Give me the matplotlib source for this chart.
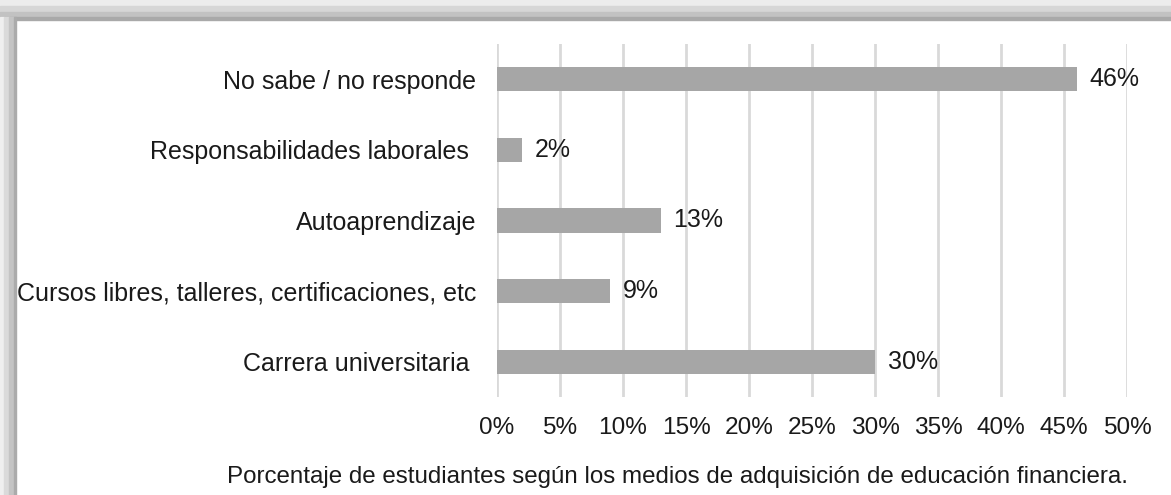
import numpy as np
import matplotlib
matplotlib.use("Agg")
import matplotlib.pyplot as plt
from matplotlib.patches import Rectangle
from matplotlib.ticker import PercentFormatter

categories = ["No sabe / no responde",
              "Responsabilidades laborales ",
              "Autoaprendizaje",
              "Cursos libres, talleres, certificaciones, etc",
              "Carrera universitaria "]
values = [46, 2, 13, 9, 30]
xticks = list(range(0, 55, 5))
caption = "Porcentaje de estudiantes según los medios de adquisición de educación financiera."

plt.rcParams['font.family'] = ['Liberation Sans', 'DejaVu Sans']

W, H = 1171, 495
fig = plt.figure(figsize=(W / 100, H / 100), dpi=100)

# shadow frame, top and left
top_bands = [(0, 6, '#ececec'), (6, 12, '#d6d6d6'), (12, 17, '#c2c2c2'), (17, 20, '#a9a9a9')]
for y0, y1, c in top_bands:
    fig.patches.append(Rectangle((0, 1 - y1 / H), 1, (y1 - y0) / H,
                                 transform=fig.transFigure, color=c, zorder=0))
left_bands = [(0, 4, '#efefef'), (4, 9, '#dadada'), (9, 14, '#c4c4c4'), (14, 16, '#ababab')]
for x0, x1, c in left_bands:
    fig.patches.append(Rectangle((x0 / W, 0), (x1 - x0) / W, 1 - 17 / H,
                                 transform=fig.transFigure, color=c, zorder=0))

ax = fig.add_axes([497 / W, 1 - 397 / H, (1127 - 497) / W, (397 - 44) / H])
ax.set_facecolor('none')

y = np.arange(len(categories))[::-1]
bars = ax.barh(y, values, height=0.34, color='#a6a6a6', zorder=2)
for b, v in zip(bars, values):
    ax.text(b.get_width() + 1.0, b.get_y() + b.get_height() / 2, f"{v}%",
            va='center', ha='left', fontsize=18, color='#1a1a1a')

ax.set_xlim(0, 50)
ax.set_ylim(-0.5, 4.5)
ax.set_xticks(xticks)
ax.xaxis.set_major_formatter(PercentFormatter(decimals=0))
ax.set_yticks(y)
ax.set_yticklabels(categories)
ax.tick_params(axis='y', length=0, pad=15, labelsize=18, labelcolor='#1a1a1a')
ax.tick_params(axis='x', length=0, pad=14.5, labelsize=17.6, labelcolor='#1a1a1a')
ax.grid(axis='x', color='#d9d9d9', linewidth=2, zorder=0)
for s in ax.spines.values():
    s.set_visible(False)

fig.text(677 / W, 1 - 477 / H, caption, ha='center', va='center',
         fontsize=17.4, color='#1a1a1a')

fig.savefig("out.png", dpi=100)
